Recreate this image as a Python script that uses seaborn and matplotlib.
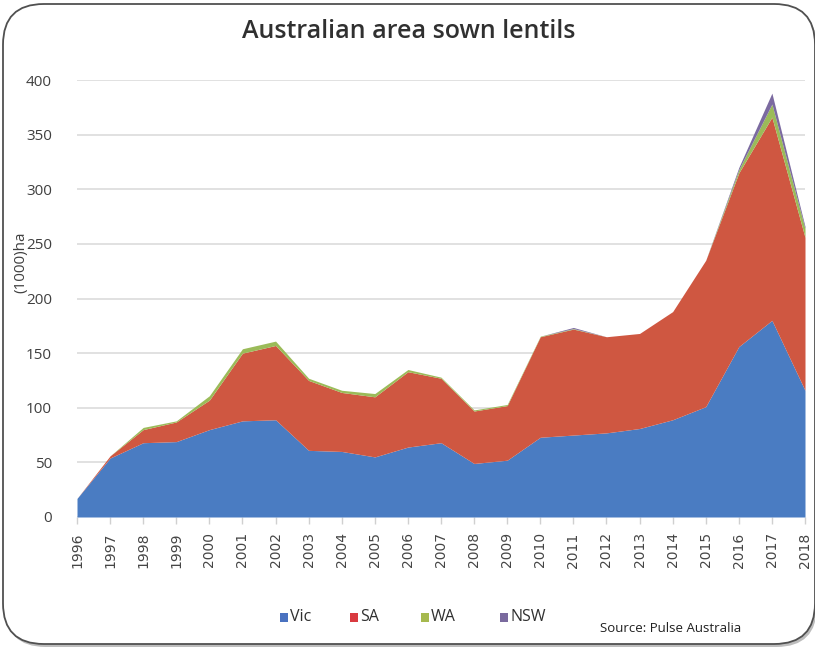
import numpy as np
import pandas as pd
import matplotlib
matplotlib.use("Agg")
import matplotlib.pyplot as plt
from matplotlib.patches import FancyBboxPatch, Rectangle
import seaborn as sns

# Lentil area sown by state, thousand hectares
years = list(range(1996, 2019))
vic = [17, 54, 68, 69, 80, 88, 89, 61, 60, 55, 64, 68, 49, 52, 73, 75, 77, 81, 89, 101, 156, 180, 116]
sa = [0, 2, 12, 18, 27, 62, 68, 64, 54, 55, 69, 59, 48, 50, 92, 97, 88, 87, 99, 134, 159, 186, 140]
wa = [0, 0, 2, 1, 4, 4, 4, 2, 2, 3, 2, 1, 1, 1, 0.5, 0.5, 0, 0, 0, 0, 3, 12, 8]
nsw = [0, 0, 0, 0, 0, 0, 0, 0, 0, 0, 0, 0, 0, 0, 0, 1, 0, 0, 0, 0, 2, 10, 2]
states = ["Vic", "SA", "WA", "NSW"]
y_ticks = [0, 50, 100, 150, 200, 250, 300, 350, 400]

df = pd.DataFrame({"year": years, "Vic": vic, "SA": sa, "WA": wa, "NSW": nsw})

sns.set_theme(style="white")
plt.rcParams["font.family"] = ["Open Sans", "DejaVu Sans"]
colors = ["#4a7cc2", "#cf5741", "#9bbb59", "#7b6aa0"]
legend_colors = ["#4a72c0", "#d93a40", "#a6b94e", "#7a6a9e"]

W, H = 815, 648
fig = plt.figure(figsize=(W / 100, H / 100), dpi=100)

# Rounded card with a soft shadow, kept behind the axes
shadow = FancyBboxPatch((5 / W, 1 / H), 812 / W, 640 / H,
                        boxstyle="round,pad=0,rounding_size=0.05",
                        transform=fig.transFigure, facecolor="#bdbdbd",
                        edgecolor="none", zorder=-3, mutation_aspect=W / H)
fig.patches.append(shadow)
card = FancyBboxPatch((3 / W, 4 / H), 812 / W, 640 / H,
                      boxstyle="round,pad=0,rounding_size=0.05",
                      transform=fig.transFigure, facecolor="white",
                      edgecolor="#505050", linewidth=1.3, zorder=-2,
                      mutation_aspect=W / H)
fig.patches.append(card)

ax = fig.add_axes([77 / W, 1 - 517 / H, 728 / W, 437 / H])
ax.set_facecolor("none")
ax.stackplot(df["year"], df["Vic"], df["SA"], df["WA"], df["NSW"],
             colors=colors, labels=states, linewidth=0)

ax.set_xlim(1996, 2018)
ax.set_ylim(0, 400)
ax.set_yticks(y_ticks)
ax.set_xticks(years)
ax.set_xticklabels([str(y) for y in years], rotation=90,
                   fontsize=10, family="DejaVu Sans", color="#454545")
ax.set_yticklabels([str(v) for v in y_ticks], fontsize=11, color="#404040")
ax.yaxis.grid(True, color="#dcdcdc", linewidth=1.2)
ax.set_axisbelow(True)
for s in ax.spines.values():
    s.set_visible(False)
ax.tick_params(axis="y", length=0, pad=18)
ax.tick_params(axis="x", length=5, color="#d0d0d0", width=1, pad=6, bottom=True)
ax.set_ylabel("(1000)ha", fontsize=11, color="#404040")
ax.yaxis.set_label_coords((28 - 77) / 728, (517 - 262) / 437)

fig.text(409 / W, 1 - 32 / H, "Australian area sown lentils", ha="center",
         va="center", fontsize=18, fontweight="semibold", color="#303030",
         family=["Open Sans", "DejaVu Sans"])

# Legend row
leg_x = [280, 350, 421, 500]
for x, name, c in zip(leg_x, states, legend_colors):
    fig.patches.append(Rectangle((x / W, 1 - 622 / H), 8 / W, 9 / H,
                                 transform=fig.transFigure, facecolor=c,
                                 edgecolor="none", zorder=3))
    fig.text((x + 10) / W, 1 - 617 / H, name, ha="left", va="center",
             fontsize=11.5, color="#303030")

fig.text(600 / W, 1 - 628 / H, "Source: Pulse Australia", ha="left",
         va="center", fontsize=9.5, color="#202020")

fig.savefig("out.png", dpi=100)
